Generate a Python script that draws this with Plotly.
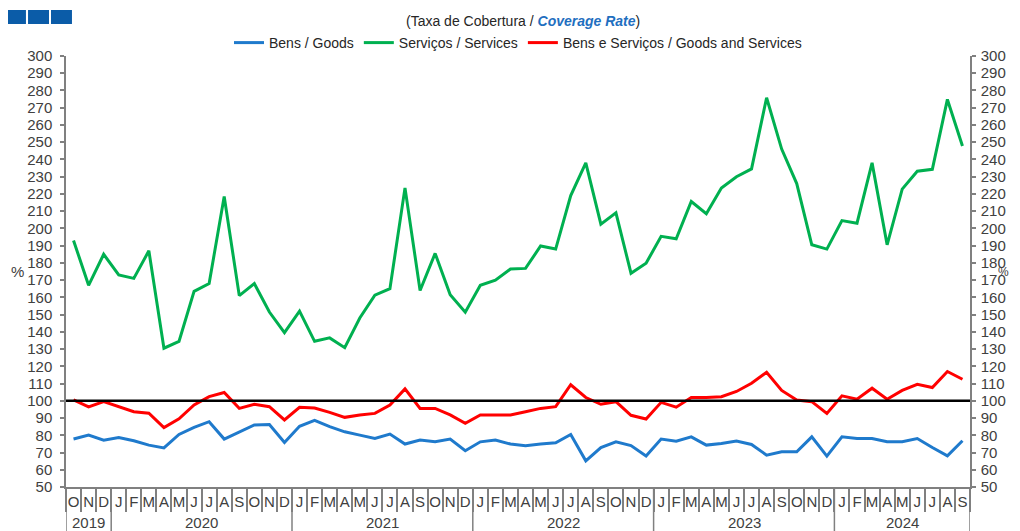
import plotly.graph_objects as go

# ---- data ----
year_labels = ["2019", "2020", "2021", "2022", "2023", "2024"]
full_year = ["J", "F", "M", "A", "M", "J", "J", "A", "S", "O", "N", "D"]
months_per_year = [
    ["O", "N", "D"],
    full_year,
    full_year,
    full_year,
    full_year,
    ["J", "F", "M", "A", "M", "J", "J", "A", "S"],
]

goods = [77.8, 80.1, 77.2, 78.7, 76.8, 74.3, 72.7, 80.5, 84.6, 87.9, 77.8, 82.0,
         86.0, 86.3, 75.8, 85.2, 88.6, 85.0, 82.0, 80.1, 78.1, 80.7, 74.9, 77.2,
         76.2, 77.8, 71.0, 76.2, 77.2, 74.9, 73.9, 74.9, 75.6, 80.5, 65.2, 72.9,
         76.2, 74.0, 68.0, 77.8, 76.6, 79.1, 74.3, 75.2, 76.6, 74.7, 68.5, 70.4,
         70.4, 79.1, 67.9, 79.1, 78.1, 78.1, 76.2, 76.2, 78.1, 72.9, 68.1, 76.8]

services = [193.0, 167.0, 185.0, 173.0, 171.0, 187.0, 130.5, 134.5, 163.5, 168.0, 218.5, 161.0,
            168.0, 151.5, 139.5, 152.0, 134.5, 136.5, 130.8, 148.0, 161.3, 165.0, 223.5, 164.0,
            185.5, 161.5, 151.4, 167.0, 170.0, 176.4, 176.8, 189.8, 188.0, 219.0, 238.0, 202.5,
            209.0, 174.0, 179.8, 195.4, 194.0, 215.6, 208.5, 223.4, 230.0, 234.5, 275.8, 246.0,
            226.0, 190.5, 188.0, 204.5, 203.0, 238.0, 190.5, 222.8, 233.2, 234.3, 274.8, 247.8]

total = [100.5, 96.5, 99.5, 96.6, 93.7, 92.8, 84.5, 89.5, 97.6, 102.4, 104.8, 95.6,
         98.0, 96.6, 88.9, 96.2, 95.8, 93.3, 90.4, 91.8, 92.7, 97.6, 106.9, 95.6,
         95.6, 91.8, 86.9, 91.8, 91.8, 91.8, 93.7, 95.6, 96.6, 109.3, 101.9, 98.0,
         99.5, 91.6, 89.4, 99.1, 96.3, 101.9, 101.9, 102.4, 105.4, 110.2, 116.6, 106.0,
         100.5, 99.5, 92.7, 102.9, 100.9, 107.3, 100.9, 106.0, 109.6, 107.7, 117.0, 112.5]

reference_level = 100
y_range = [50, 300]

# ---- x positions derived from the month lists ----
month_text = [m for months in months_per_year for m in months]
n = len(month_text)
x_idx = list(range(n))
boundaries = [i - 0.5 for i in range(n + 1)]
year_starts, year_centers = [], []
pos = 0
for months in months_per_year:
    year_starts.append(pos - 0.5)
    year_centers.append(pos + (len(months) - 1) / 2)
    pos += len(months)
year_starts.append(pos - 0.5)

FONT = "Liberation Sans, Arial, sans-serif"
TXT = "#404040"
AX = "#808080"

fig = go.Figure()
fig.add_trace(go.Scatter(x=x_idx, y=goods, mode="lines", name="Bens / Goods",
                         line=dict(color="#1F7ACC", width=3)))
fig.add_trace(go.Scatter(x=x_idx, y=services, mode="lines", name="Serviços / Services",
                         line=dict(color="#00B050", width=3)))
fig.add_trace(go.Scatter(x=x_idx, y=total, mode="lines", name="Bens e Serviços / Goods and Services",
                         line=dict(color="#FF0000", width=3), yaxis="y2"))

yaxis_common = dict(range=y_range, dtick=10, tick0=0, showgrid=False, zeroline=False,
                    showline=True, linecolor=AX, linewidth=1.5, tickcolor=AX, tickwidth=1.5,
                    ticklen=4, tickfont=dict(family=FONT, size=15, color=TXT), fixedrange=True,
                    automargin=False)

# the page body adds an 8px offset, so the figure is 8px smaller than the window
fig.update_layout(
    width=1012, height=523,
    margin=dict(l=58, r=50, t=48, b=44, autoexpand=False),
    paper_bgcolor="white", plot_bgcolor="white",
    showlegend=True,
    legend=dict(orientation="h", x=0.5, xanchor="center", yref="container", y=1 - 35 / 523,
                yanchor="middle",
                font=dict(family=FONT, size=14, color="#262626"), itemwidth=30,
                bgcolor="rgba(0,0,0,0)"),
    xaxis=dict(range=[-0.5, n - 0.5], tickmode="array", tickvals=x_idx, ticktext=month_text,
               ticks="", showline=True, linecolor=AX, linewidth=1.5, tickangle=0,
               minor=dict(tickmode="array", tickvals=boundaries, ticks="outside", ticklen=23,
                          tickcolor=AX, tickwidth=1.5),
               tickfont=dict(family=FONT, size=15, color=TXT), showgrid=False, zeroline=False,
               fixedrange=True, automargin=False),
    yaxis=dict(side="left", ticks="outside", ticklabelstandoff=5, **yaxis_common),
    yaxis2=dict(overlaying="y", side="right", ticks="outside", ticklabelstandoff=2,
                anchor="x", **yaxis_common),
    yaxis3=dict(overlaying="y", side="left", ticks="inside", showticklabels=False,
                anchor="x", **yaxis_common),
    yaxis4=dict(overlaying="y", side="right", ticks="inside", showticklabels=False,
                anchor="x", **yaxis_common),
)

# 100% reference line
fig.add_shape(type="line", xref="paper", x0=0, x1=1, yref="y", y0=reference_level, y1=reference_level,
              line=dict(color="black", width=2.5))

# year dividers and year labels
for xb in year_starts:
    fig.add_shape(type="line", xref="x", x0=xb, x1=xb, yref="paper", y0=0, y1=-0.2,
                  line=dict(color=AX, width=1.5))
for xc, yr in zip(year_centers, year_labels):
    fig.add_annotation(xref="x", yref="paper", x=xc, y=(487 - 522) / 431, xanchor="center",
                       yanchor="middle", showarrow=False, text=yr,
                       font=dict(family=FONT, size=15, color=TXT))

# logo blocks
for x0, x1 in [(-0.0664, -0.0443), (-0.0420, -0.0188), (-0.0166, 0.0066)]:
    fig.add_shape(type="rect", xref="paper", yref="paper", x0=x0, x1=x1, y0=1.0742, y1=1.1067,
                  fillcolor="#0B5CA8", line=dict(width=0))

fig.add_annotation(xref="paper", yref="paper", x=0.5055, y=(487 - 21) / 431, xanchor="center",
                   yanchor="middle", showarrow=False,
                   text="(Taxa de Cobertura / <b><i><span style='color:#1F6FBF'>Coverage Rate</span></i></b>)",
                   font=dict(family=FONT, size=14, color="#262626"))
fig.add_annotation(xref="paper", yref="paper", x=(9 - 66) / 904, y=0.4995, xanchor="left",
                   yanchor="middle", showarrow=False, text="%",
                   font=dict(family=FONT, size=15, color=TXT))
fig.add_annotation(xref="paper", yref="paper", x=(1011 - 66) / 904, y=0.4995, xanchor="right",
                   yanchor="middle", showarrow=False, text="%",
                   font=dict(family=FONT, size=12, color=TXT))

fig.write_html("out.html")
